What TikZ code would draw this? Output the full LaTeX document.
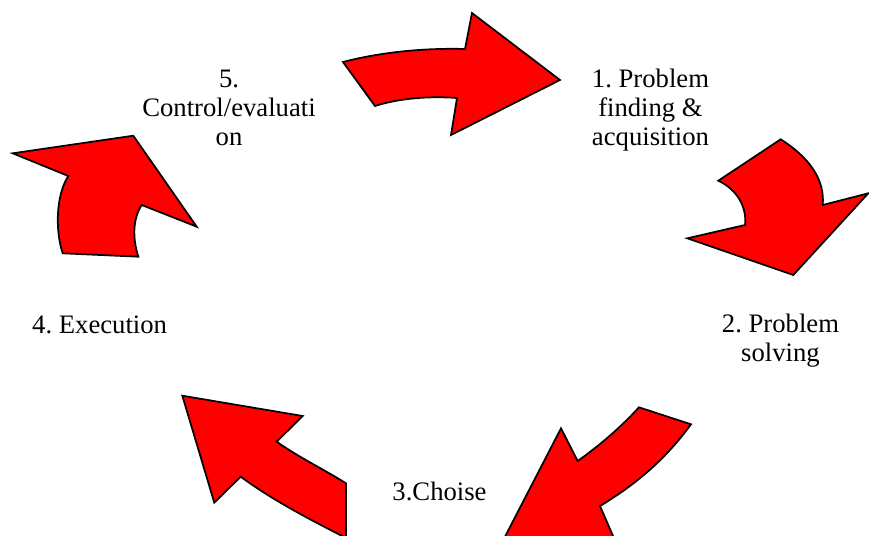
\documentclass[tikz,border=0pt]{standalone}
\usepackage{fontspec}
\setmainfont{Liberation Serif}
\newfontfamily\labelfont{Liberation Serif}
\usepackage{xcolor}
\definecolor{arrow-red}{RGB}{255,0,0}
\definecolor{gray-900}{RGB}{0,0,0}
\usepackage{tikz}
\frenchspacing

\begin{document}
\begin{tikzpicture}[
    x=0.75pt, y=-0.75pt,
    every node/.style={inner sep=0pt},
    cyclearrow/.style={fill=arrow-red, draw=black, line width=1.3pt, line join=miter},
    steplabel/.style={font=\labelfont\fontsize{20pt}{21.75pt}\selectfont, text=gray-900, align=center, anchor=base}
]

% Page frame
\useasboundingbox (0,0) rectangle (869,536);
\clip (0,0) rectangle (869,536);

% Arrow from 5 to 1
\draw[cyclearrow] (343,62) .. controls (385,51) and (430,48) .. (465,49) -- (472,13) -- (560,80)
    -- (451,135) -- (457,98) .. controls (430,96) and (400,98) .. (375,106) -- cycle;

% Arrow from 1 to 2
\draw[cyclearrow] (780.7,139.3) -- (718.3,180.7) .. controls (738,190) and (747,208) .. (745,225)
    -- (687.3,238.3) -- (793.3,275) -- (868.3,193.3) -- (822.7,205)
    .. controls (825,180) and (810,158) .. (780.7,139.3) -- cycle;

% Arrow from 2 to 3
\draw[cyclearrow] (639,407.3) -- (691,424.3) .. controls (665,460) and (635,485) .. (600,506)
    -- (620,552) -- (495,556) -- (561,428.3) -- (577.7,461)
    .. controls (600,445) and (620,428) .. (639,407.3) -- cycle;

% Arrow from 3 to 4
\draw[cyclearrow] (182.3,395.7) -- (302.7,416) -- (276.7,441.7)
    .. controls (300,458) and (325,470) .. (346,483.3) -- (346,538)
    .. controls (315,522) and (275,502) .. (240.7,476.7) -- (214.3,502.7) -- cycle;

% Arrow from 4 to 5
\draw[cyclearrow] (12.7,153.3) -- (133.3,135.7) -- (196.7,226.7) -- (141.7,205)
    .. controls (132,220) and (133,240) .. (138.3,256.7) -- (62.7,253.3)
    .. controls (55,230) and (56,195) .. (68.3,176) -- cycle;

% Step labels (base = last line)
\node[steplabel] (finding) at (650.5,145) {1. Problem\\finding \&\\acquisition};
\node[steplabel] (solving) at (780.5,361.7) {2. Problem\\solving};
\node[steplabel] (choise) at (439.5,500) {3.Choise};
\node[steplabel] (execution) at (99.6,333) {4. Execution};
\node[steplabel] (control) at (229,145) {5.\\Control/evaluati\\on};

\end{tikzpicture}
\end{document}
